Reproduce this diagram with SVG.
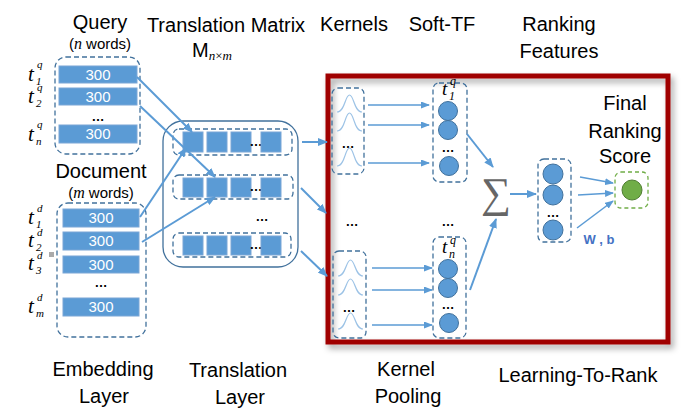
<svg xmlns="http://www.w3.org/2000/svg" width="681" height="416" viewBox="0 0 681 416">
<defs>
<style>
.t{font-family:"Liberation Sans",Arial,sans-serif;fill:#000;text-anchor:middle}
.h{font-size:20px}
.s{font-size:15px}
.num{font-family:"Liberation Sans",Arial,sans-serif;font-size:15px;fill:#fff;text-anchor:middle}
.m{font-family:"Liberation Serif","Times New Roman",serif;font-style:italic;fill:#000}
.mb{font-size:21px}
.ms{font-size:11px}
.bar{fill:#5b9bd5;stroke:#7aa6d6;stroke-width:1}
.sq{fill:#5b9bd5;stroke:#7aa6d6;stroke-width:1}
.dash{fill:none;stroke:#41719c;stroke-width:1.3;stroke-dasharray:5 3}
.solid{fill:none;stroke:#41719c;stroke-width:1.3}
.c{fill:#5b9bd5;stroke:#41719c;stroke-width:1}
.g{fill:none;stroke:#9dc3e6;stroke-width:1.2}
.dots{font-family:"Liberation Sans",Arial,sans-serif;font-size:13px;font-weight:bold;fill:#000;text-anchor:middle}
.a{fill:none;stroke:#5b9bd5;stroke-width:2;marker-end:url(#ah)}
.a2{fill:none;stroke:#5b9bd5;stroke-width:1.5;marker-end:url(#ah2)}
</style>
<marker id="ah" markerUnits="userSpaceOnUse" markerWidth="10" markerHeight="8" refX="9" refY="4" orient="auto">
<path d="M0,0 L10,4 L0,8 z" fill="#5b9bd5"/>
</marker>
<marker id="ah2" markerUnits="userSpaceOnUse" markerWidth="9" markerHeight="7" refX="8" refY="3.5" orient="auto">
<path d="M0,0 L9,3.5 L0,7 z" fill="#5b9bd5"/>
</marker>
<filter id="sh" x="-5%" y="-5%" width="115%" height="120%">
<feDropShadow dx="3" dy="4" stdDeviation="3" flood-color="#000" flood-opacity="0.35"/>
</filter>
</defs>
<rect width="681" height="416" fill="#fff"/>

<g id="titles">
<text class="t h" x="100" y="29">Query</text>
<text class="t s" x="100" y="49">(<tspan class="m" font-size="16">n</tspan> words)</text>
<text class="t h" x="226" y="32">Translation Matrix</text>
<text class="t h" x="212" y="57">M<tspan class="m" font-size="13" dy="3">n</tspan><tspan font-size="13" font-family="Liberation Serif">×</tspan><tspan class="m" font-size="13">m</tspan></text>
<text class="t h" x="354" y="31">Kernels</text>
<text class="t h" x="442" y="31">Soft-TF</text>
<text class="t h" x="559" y="31">Ranking</text>
<text class="t h" x="559" y="58">Features</text>
<text class="t h" x="101" y="178">Document</text>
<text class="t s" x="101" y="198">(<tspan class="m" font-size="16">m</tspan> words)</text>
<text class="t h" x="625" y="110">Final</text>
<text class="t h" x="625" y="138">Ranking</text>
<text class="t h" x="625" y="163">Score</text>
<text class="t h" x="103" y="376">Embedding</text>
<text class="t h" x="104" y="403">Layer</text>
<text class="t h" x="238" y="377">Translation</text>
<text class="t h" x="240" y="404">Layer</text>
<text class="t h" x="406" y="376">Kernel</text>
<text class="t h" x="408" y="403">Pooling</text>
<text class="t h" x="578" y="382">Learning-To-Rank</text>
</g>

<g id="red-box">
<rect x="328" y="76" width="340" height="266" fill="none" stroke="#a00000" stroke-width="5" filter="url(#sh)"/>
</g>

<g id="query">
<rect class="dash" x="55" y="57" width="85" height="97" rx="11"/>
<rect class="bar" x="59" y="66" width="78" height="17"/>
<text class="num" x="98" y="80">300</text>
<rect class="bar" x="59" y="88" width="78" height="17"/>
<text class="num" x="98" y="102">300</text>
<text class="dots" x="98" y="121">…</text>
<rect class="bar" x="59" y="125" width="78" height="18"/>
<text class="num" x="98" y="139">300</text>
<text class="m mb" x="28" y="81">t</text><text class="m ms" x="37" y="68">q</text><text class="m ms" x="36" y="84.5">1</text>
<text class="m mb" x="28" y="103">t</text><text class="m ms" x="37" y="90.5">q</text><text class="m ms" x="36" y="106.5">2</text>
<text class="m mb" x="28" y="141">t</text><text class="m ms" x="37" y="128">q</text><text class="m ms" x="36" y="144.5">n</text>
</g>

<g id="document">
<rect class="dash" x="57" y="203" width="89" height="134" rx="11"/>
<rect class="bar" x="63" y="209" width="76" height="18"/>
<text class="num" x="101" y="223">300</text>
<rect class="bar" x="63" y="232" width="76" height="18"/>
<text class="num" x="101" y="246">300</text>
<rect class="bar" x="63" y="256" width="76" height="17"/>
<text class="num" x="101" y="270">300</text>
<text class="dots" x="101" y="287">…</text>
<rect class="bar" x="63" y="298" width="76" height="18"/>
<text class="num" x="101" y="312">300</text>
<text class="m mb" x="28" y="224">t</text><text class="m ms" x="37" y="212">d</text><text class="m ms" x="36" y="227.5">1</text>
<text class="m mb" x="28" y="247">t</text><text class="m ms" x="37" y="235.5">d</text><text class="m ms" x="36" y="250.5">2</text>
<text class="m mb" x="28" y="270">t</text><text class="m ms" x="37" y="259">d</text><text class="m ms" x="36" y="274">3</text>
<rect x="49" y="252" width="5" height="5" fill="#aaa"/>
<text class="m mb" x="28" y="313">t</text><text class="m ms" x="37" y="301">d</text><text class="m ms" x="36" y="316.5">m</text>
</g>

<g id="translation">
<rect class="solid" x="163" y="121" width="135" height="146" rx="20"/>
<rect class="dash" x="173" y="129" width="119" height="26" rx="6"/>
<rect class="sq" x="183" y="132" width="20" height="20"/>
<rect class="sq" x="207" y="132" width="20" height="20"/>
<rect class="sq" x="231" y="132" width="20" height="20"/>
<text class="dots" x="256" y="146">…</text>
<rect class="sq" x="261" y="132" width="20" height="20"/>
<rect class="dash" x="173" y="175" width="120" height="24" rx="6"/>
<rect class="sq" x="183" y="178" width="20" height="19"/>
<rect class="sq" x="207" y="178" width="20" height="19"/>
<rect class="sq" x="231" y="178" width="20" height="19"/>
<text class="dots" x="256" y="191">…</text>
<rect class="sq" x="261" y="178" width="20" height="19"/>
<text class="dots" x="262" y="221">…</text>
<rect class="dash" x="173" y="233" width="118" height="24" rx="6"/>
<rect class="sq" x="183" y="236" width="20" height="19"/>
<rect class="sq" x="207" y="236" width="20" height="19"/>
<rect class="sq" x="231" y="236" width="20" height="19"/>
<text class="dots" x="256" y="249">…</text>
<rect class="sq" x="261" y="236" width="20" height="19"/>
</g>

<g id="kernels-top">
<rect class="dash" x="332" y="88" width="32" height="86" rx="6"/>
<path class="g" d="M337,112 C345,112 345,95 349.5,95 C354,95 354,112 362,112"/>
<path class="g" d="M337,131 C345,131 345,113 349.5,113 C354,113 354,131 362,131"/>
<text class="dots" x="348" y="148">…</text>
<path class="g" d="M337,166 C345,166 345,148 349.5,148 C354,148 354,166 362,166"/>
</g>

<g id="kernels-bottom">
<rect class="dash" x="333" y="251" width="33" height="87" rx="6"/>
<path class="g" d="M338,276 C346,276 346,260 350.5,260 C355,260 355,276 363,276"/>
<path class="g" d="M338,295 C346,295 346,279 350.5,279 C355,279 355,295 363,295"/>
<text class="dots" x="349" y="312">…</text>
<path class="g" d="M338,329 C346,329 346,313 350.5,313 C355,313 355,329 363,329"/>
</g>
<text class="dots" x="352" y="226">…</text>
<text class="dots" x="448" y="226">…</text>

<g id="softtf-top">
<rect class="dash" x="433" y="83" width="34" height="99" rx="6"/>
<text class="m" font-size="19" x="442" y="95">t</text><text class="m" font-size="12" x="450" y="85">q</text><text class="m" font-size="12" x="449" y="100">1</text>
<circle class="c" cx="448" cy="111" r="9.5"/>
<circle class="c" cx="448" cy="130" r="9.5"/>
<text class="dots" x="448" y="152">…</text>
<circle class="c" cx="449" cy="166" r="9.5"/>
</g>

<g id="softtf-bottom">
<rect class="dash" x="433" y="237" width="33" height="101" rx="6"/>
<text class="m" font-size="19" x="442" y="253">t</text><text class="m" font-size="12" x="450" y="244">q</text><text class="m" font-size="12" x="449" y="258">n</text>
<circle class="c" cx="448" cy="269" r="9.5"/>
<circle class="c" cx="448" cy="288" r="9.5"/>
<text class="dots" x="448" y="309">…</text>
<circle class="c" cx="449" cy="323" r="9.5"/>
</g>

<g id="sum">
<text x="496" y="207" font-family="Liberation Serif,DejaVu Serif,serif" font-size="42" fill="#666" text-anchor="middle">∑</text>
</g>

<g id="ranking-features">
<rect class="dash" x="538" y="159" width="33" height="83" rx="6"/>
<circle class="c" cx="553" cy="174" r="10"/>
<circle class="c" cx="553" cy="195" r="10"/>
<text class="dots" x="553" y="217">…</text>
<circle class="c" cx="553" cy="230" r="10"/>
</g>

<g id="final-score">
<rect x="615" y="172" width="33" height="36" rx="6" fill="none" stroke="#70ad47" stroke-width="1.3" stroke-dasharray="4 3"/>
<circle cx="632" cy="190" r="10" fill="#70ad47" stroke="#507e32" stroke-width="1"/>
</g>
<text x="599" y="244" font-family="Liberation Sans,Arial,sans-serif" font-size="13" font-weight="bold" fill="#4472c4" text-anchor="middle">W , b</text>

<g id="connectors">
<path class="a" d="M137,77 L192,132"/>
<path class="a" d="M140,106 L215,177"/>
<path class="a" d="M140,217 L186,148"/>
<path class="a" d="M142,242 L215,197"/>
<path class="a" d="M302,142 L327,142"/>
<path class="a" d="M301,188 L326,213"/>
<path class="a" d="M301,251 L327,276"/>
<path class="a2" d="M368,105 L429,105"/>
<path class="a2" d="M368,125 L429,125"/>
<path class="a2" d="M368,163 L429,163"/>
<path class="a2" d="M372,268 L432,268"/>
<path class="a2" d="M372,290 L432,290"/>
<path class="a2" d="M372,325 L432,325"/>
<path class="a" d="M467,134 L493,167"/>
<path class="a" d="M470,290 L496,219"/>
<path class="a" d="M510,194 L536,194"/>
<path class="a2" d="M580,177 L613,183"/>
<path class="a2" d="M578,195 L613,193"/>
<path class="a2" d="M577,228 L613,201"/>
</g>
</svg>
